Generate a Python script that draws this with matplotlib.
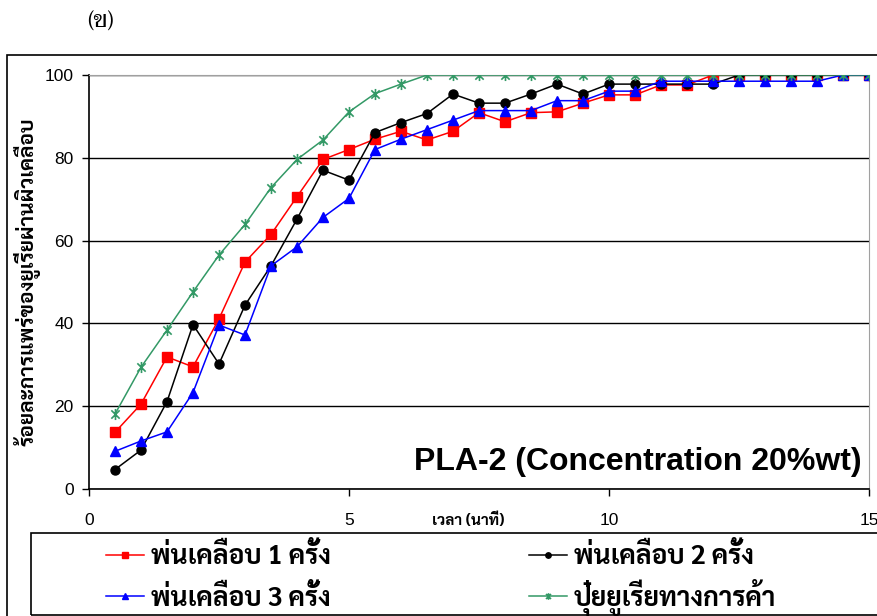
import numpy as np
import matplotlib
matplotlib.use('Agg')
import matplotlib.pyplot as plt
from matplotlib.path import Path
from matplotlib.patches import Rectangle

# time in minutes, every half minute
t = np.arange(1, 31) * 0.5

spray_1 = [13.7, 20.5, 31.9, 29.5, 41.1, 54.8, 61.5, 70.6, 79.6, 82.0,
           84.5, 86.4, 84.3, 86.4, 90.9, 88.7, 90.9, 91.1, 93.2, 95.2,
           95.2, 97.6, 97.6, 100, 100, 100, 100, 100, 100, 100]
spray_2 = [4.7, 9.4, 21.1, 39.7, 30.2, 44.4, 53.9, 65.2, 77.0, 74.6,
           86.1, 88.5, 90.7, 95.4, 93.2, 93.2, 95.4, 97.8, 95.4, 97.8,
           97.8, 97.8, 97.8, 97.8, 100, 100, 100, 100, 100, 100]
spray_3 = [9.1, 11.6, 13.8, 23.3, 39.6, 37.2, 53.9, 58.5, 65.6, 70.2,
           82.0, 84.5, 86.8, 89.1, 91.4, 91.4, 91.4, 93.8, 93.8, 96.1,
           96.1, 98.5, 98.5, 98.5, 98.5, 98.5, 98.5, 98.5, 100, 100]
commercial = [18.1, 29.4, 38.4, 47.6, 56.5, 63.9, 72.8, 79.6, 84.3, 91.1,
              95.5, 97.8, 100, 100, 100, 100, 100, 100, 100, 100,
              100, 100, 100, 100, 100, 100, 100, 100, 100, 100]

labels = ['พ่นเคลือบ 1 ครั้ง', 'พ่นเคลือบ 2 ครั้ง',
          'พ่นเคลือบ 3 ครั้ง', 'ปุ๋ยยูเรียทางการค้า']

thai = ['Sarabun', 'Bai Jamjuree', 'Liberation Sans']
latin = ['Liberation Sans', 'DejaVu Sans']

# excel style star: x plus a vertical bar
star = Path([(0, -1), (0, 1), (-0.75, -0.75), (0.75, 0.75), (-0.75, 0.75), (0.75, -0.75)],
            [Path.MOVETO, Path.LINETO, Path.MOVETO, Path.LINETO, Path.MOVETO, Path.LINETO])

W, H = 878, 616
fig = plt.figure(figsize=(W / 100, H / 100), dpi=100)
ax = fig.add_axes([89 / W, 1 - 489 / H, 780 / W, 414 / H])

l1, = ax.plot(t, spray_1, color='#ff0000', lw=1.1, marker='s', ms=6.5, zorder=4)
l2, = ax.plot(t, spray_2, color='black', lw=1.1, marker='o', ms=6.5, zorder=4)
l3, = ax.plot(t, spray_3, color='#0000ff', lw=1.1, marker='^', ms=7.5, zorder=4)
l4, = ax.plot(t, commercial, color='#339966', lw=1.1, marker=star, ms=8,
              mec='#339966', mew=1.2, fillstyle='none', zorder=4)

ax.set_xlim(0, 15)
ax.set_ylim(0, 100)
ax.set_xticks([0, 5, 10, 15])
ax.set_yticks([0, 20, 40, 60, 80, 100])
ax.tick_params(axis='x', direction='out', length=5, width=1, pad=12, labelsize=12.5)
ax.tick_params(axis='y', direction='out', length=5, width=1, pad=6, labelsize=12.5)
for lab in ax.get_xticklabels() + ax.get_yticklabels():
    lab.set_family(latin)
ax.yaxis.grid(True, color='black', lw=1)
ax.set_axisbelow(True)
for s in ['top', 'right']:
    ax.spines[s].set_color('#a0a0a0')
for s in ['left', 'bottom']:
    ax.spines[s].set_linewidth(1.2)

ax.text(0.99, 0.065, 'PLA-2 (Concentration 20%wt)', transform=ax.transAxes,
        ha='right', va='center', fontsize=23, fontweight='bold', family=latin)

fig.text(468 / W, 1 - 520 / H, 'เวลา (นาที)', ha='center', va='center',
         fontsize=11, fontweight='bold', family=thai)
fig.text(27 / W, 1 - 282 / H, 'ร้อยละการแพร่ของยูเรียผ่านผิวเคลือบ', rotation=90,
         ha='center', va='center', fontsize=15, fontweight='bold', family=thai)
fig.text(100 / W, 1 - 22 / H, '(ข)', ha='center', va='center', fontsize=17,
         family=['Taviraj', 'Trirong', 'Noto Serif Thai', 'DejaVu Serif'])

# outer frame and legend box
fig.patches.append(Rectangle((7 / W, -0.05), 1.0, 1 - 55 / H + 0.05, transform=fig.transFigure,
                             fill=False, ec='black', lw=1.2))
fig.patches.append(Rectangle((31 / W, 1 - 615 / H), 1.0, 82 / H, transform=fig.transFigure,
                             fill=False, ec='black', lw=1.2))

# one legend per row so both columns share a baseline
leg_kw = dict(loc='center left', ncol=2, frameon=False,
              prop={'family': thai, 'weight': 'bold', 'size': 19},
              handlelength=1.45, handletextpad=0.25, columnspacing=7.5,
              markerscale=0.6, borderpad=0, borderaxespad=0)
fig.legend([l1, l2], labels[:2], bbox_to_anchor=(106 / W, 1 - 557 / H), **leg_kw)
fig.legend([l3, l4], labels[2:], bbox_to_anchor=(106 / W, 1 - 597 / H), **leg_kw)

fig.savefig('out.png', dpi=100)
